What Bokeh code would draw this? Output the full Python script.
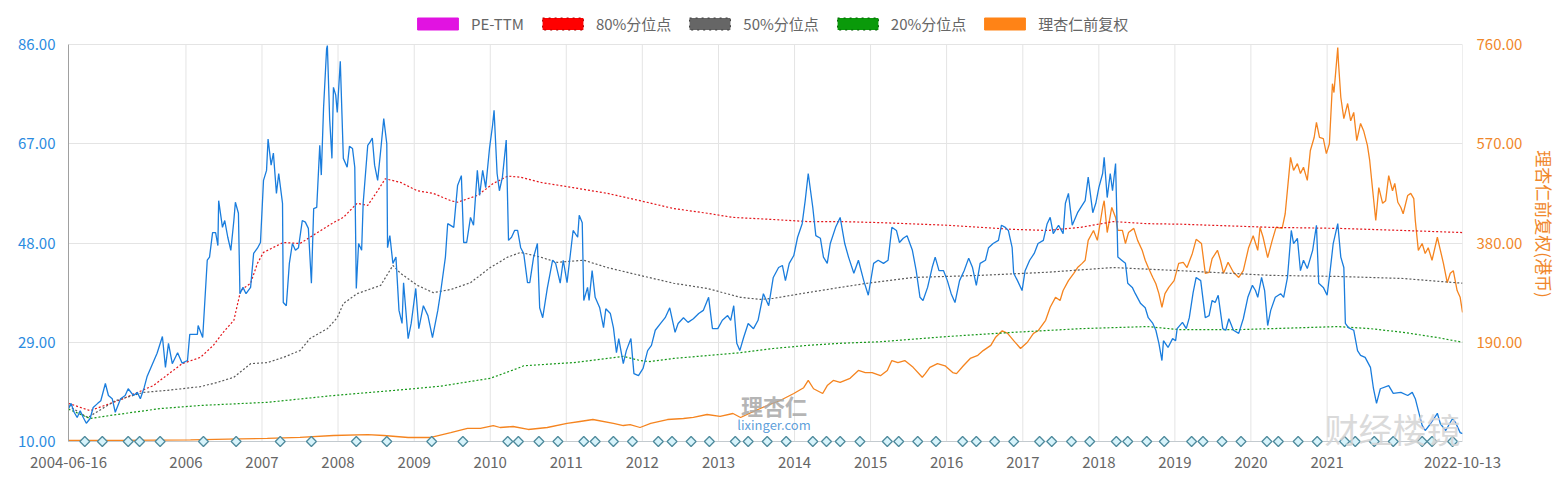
import numpy as np
from datetime import datetime
from bokeh.plotting import figure
from bokeh.models import (Range1d, LinearAxis, FixedTicker, NumeralTickFormatter,
                          Legend, LegendItem, Label, ColumnDataSource)
from bokeh.embed import file_html
from bokeh.resources import INLINE

FONT = "Noto Sans CJK SC"

# ---------------- data ----------------
start_date = "2004-06-16"
end_date = "2022-10-13"
year_ticks = list(range(2006, 2022))
left_ticks = [10, 29, 48, 67, 86]
right_ticks = [190, 380, 570, 760]
left_lim = (10, 86)
right_lim = (0, 760)

# (decimal year, PE-TTM)
pe_ttm = [(2004.456,16.3),(2004.49,17.3),(2004.53,15.6),(2004.57,14.6),(2004.61,15.9),(2004.65,14.6),(2004.69,13.5),(2004.74,14.4),(2004.78,16.5),(2004.84,17.3),(2004.88,17.8),(2004.94,21.1),(2004.98,18.8),(2005.03,18.2),(2005.07,15.6),(2005.14,18.2),(2005.20,18.8),(2005.24,20.1),(2005.31,18.8),(2005.36,19.4),(2005.40,18.2),(2005.45,20.3),(2005.49,22.5),
(2005.62,26.9),(2005.69,30.1),(2005.73,24.2),(2005.77,28.8),(2005.82,24.9),(2005.89,27.0),(2005.95,25.0),(2006.02,25.5),(2006.05,30.5),(2006.15,30.5),(2006.16,32.2),(2006.22,29.9),(2006.28,44.7),(2006.31,45.3),(2006.35,50.0),(2006.39,50.0),(2006.42,47.5),(2006.43,56.1),(2006.48,51.0),(2006.51,52.3),(2006.55,49.1),(2006.59,46.6),(2006.63,52.3),(2006.65,55.8),(2006.69,53.7),(2006.71,38.3),(2006.75,39.5),(2006.79,38.3),(2006.85,39.5),(2006.89,46.0),(2006.94,47.0),(2006.98,48.1),
(2007.02,60.0),(2007.06,61.9),(2007.08,67.9),(2007.12,62.9),(2007.15,65.2),(2007.19,57.5),(2007.22,61.3),(2007.27,55.6),(2007.28,36.6),(2007.32,36.0),(2007.36,44.1),(2007.40,47.9),(2007.44,46.6),(2007.48,47.1),(2007.53,52.3),(2007.57,52.0),(2007.61,50.8),(2007.65,40.3),(2007.68,54.6),(2007.72,54.8),(2007.76,66.7),(2007.78,61.0),(2007.81,73.9),(2007.85,85.2),(2007.86,85.8),(2007.89,71.8),(2007.92,64.2),(2007.94,77.8),(2007.97,76.3),(2007.99,73.0),
(2008.03,82.8),(2008.07,64.2),(2008.12,62.5),(2008.15,66.5),(2008.19,66.1),(2008.22,62.5),(2008.24,39.3),(2008.27,47.9),(2008.31,46.6),(2008.33,55.6),(2008.39,66.7),(2008.42,67.3),(2008.45,68.1),(2008.48,62.9),(2008.52,60.0),(2008.56,65.7),(2008.60,71.8),(2008.64,67.0),(2008.65,47.1),(2008.68,49.4),(2008.72,44.1),(2008.76,45.3),(2008.80,35.1),(2008.84,32.6),(2008.86,40.4),(2008.92,29.7),(2008.96,32.6),
(2009.02,39.3),(2009.06,31.6),(2009.12,36.0),(2009.18,34.1),(2009.24,29.9),(2009.31,35.1),(2009.35,38.9),(2009.41,45.3),(2009.44,51.7),(2009.52,51.0),(2009.57,59.0),(2009.62,60.9),(2009.65,48.1),(2009.69,48.1),(2009.74,52.9),(2009.78,51.4),(2009.83,61.9),(2009.86,57.1),(2009.90,61.9),(2009.94,58.6),(2009.99,66.1),
(2010.03,70.5),(2010.05,73.4),(2010.09,61.3),(2010.12,58.0),(2010.16,60.6),(2010.21,67.7),(2010.24,48.5),(2010.28,49.1),(2010.32,50.4),(2010.36,50.4),(2010.40,47.1),(2010.44,46.0),(2010.49,40.4),(2010.52,40.4),(2010.57,45.3),(2010.62,47.9),(2010.65,35.6),(2010.69,33.7),(2010.75,39.3),(2010.82,44.7),(2010.86,44.1),(2010.92,40.3),(2010.96,44.7),
(2011.01,40.4),(2011.07,47.9),(2011.09,50.4),(2011.15,49.1),(2011.17,53.3),(2011.21,51.9),(2011.23,37.0),(2011.28,39.5),(2011.30,37.0),(2011.34,42.7),(2011.38,37.6),(2011.44,35.6),(2011.49,31.8),(2011.52,35.4),(2011.58,34.5),(2011.62,31.8),(2011.66,27.0),(2011.69,29.7),(2011.75,24.9),(2011.79,27.4),(2011.85,29.7),(2011.89,23.0),(2011.95,22.6),
(2012.01,24.0),(2012.07,27.4),(2012.12,28.4),(2012.17,31.3),(2012.24,32.6),(2012.30,33.7),(2012.36,35.6),(2012.43,30.9),(2012.47,32.6),(2012.54,33.7),(2012.60,32.8),(2012.67,33.5),(2012.74,34.5),(2012.80,35.1),(2012.87,37.6),(2012.92,31.6),(2012.99,31.6),
(2013.05,33.2),(2013.12,34.1),(2013.16,33.2),(2013.20,36.0),(2013.24,28.8),(2013.28,27.4),(2013.33,29.9),(2013.39,32.6),(2013.46,31.6),(2013.52,33.2),(2013.59,38.3),(2013.66,36.0),(2013.72,41.4),(2013.79,43.3),(2013.84,43.7),(2013.88,40.8),(2013.93,44.1),(2013.99,45.6),
(2014.04,49.1),(2014.10,51.7),(2014.14,56.1),(2014.18,61.3),(2014.24,54.8),(2014.28,49.4),(2014.34,48.9),(2014.38,45.3),(2014.43,44.1),(2014.47,47.9),(2014.54,51.0),(2014.60,52.9),(2014.66,47.9),(2014.71,45.3),(2014.78,42.2),(2014.84,44.7),(2014.91,40.8),(2014.97,38.0),
(2015.04,44.1),(2015.10,44.7),(2015.17,44.1),(2015.23,44.7),(2015.28,51.0),(2015.34,50.4),(2015.38,48.1),(2015.43,48.9),(2015.48,49.4),(2015.55,46.6),(2015.60,42.7),(2015.65,37.6),(2015.69,37.0),(2015.75,39.5),(2015.81,43.3),(2015.85,45.3),(2015.90,42.7),(2015.96,42.7),
(2016.01,40.8),(2016.06,38.3),(2016.11,36.6),(2016.17,40.8),(2016.23,42.7),(2016.29,45.1),(2016.34,43.3),(2016.39,39.9),(2016.44,44.1),(2016.51,44.7),(2016.55,47.1),(2016.61,47.9),(2016.68,48.5),(2016.72,51.4),(2016.77,51.0),(2016.81,50.4),(2016.86,47.1),(2016.88,42.2),(2016.93,40.8),(2016.99,38.9),
(2017.03,42.7),(2017.09,44.7),(2017.15,46.0),(2017.20,47.9),(2017.27,48.5),(2017.32,51.7),(2017.36,52.9),(2017.40,49.8),(2017.47,51.4),(2017.53,49.8),(2017.56,55.6),(2017.60,57.5),(2017.65,51.4),(2017.72,53.8),(2017.78,55.2),(2017.82,56.1),(2017.86,60.6),(2017.92,53.8),(2017.96,55.6),
(2018.00,58.6),(2018.05,61.3),(2018.07,64.4),(2018.11,56.7),(2018.15,61.3),(2018.18,58.0),(2018.22,63.2),(2018.25,45.3),(2018.30,44.7),(2018.35,44.1),(2018.38,40.3),(2018.44,39.5),(2018.48,38.3),(2018.55,36.4),(2018.61,35.6),(2018.65,33.7),(2018.71,32.6),(2018.75,31.3),(2018.79,28.8),(2018.83,25.5),(2018.85,29.3),(2018.91,28.0),(2018.97,29.7),
(2019.01,29.3),(2019.03,31.6),(2019.10,32.8),(2019.15,31.6),(2019.19,33.7),(2019.24,38.5),(2019.28,41.4),(2019.34,40.8),(2019.40,33.7),(2019.45,34.1),(2019.49,37.0),(2019.53,36.6),(2019.57,38.0),(2019.63,31.6),(2019.67,31.3),(2019.71,33.5),(2019.77,31.3),(2019.84,30.7),(2019.90,33.5),(2019.96,37.6),
(2020.02,39.9),(2020.06,38.9),(2020.09,37.6),(2020.14,41.4),(2020.18,38.9),(2020.22,32.2),(2020.26,35.1),(2020.32,37.6),(2020.39,38.3),(2020.43,37.6),(2020.48,41.4),(2020.53,50.4),(2020.56,47.9),(2020.61,48.9),(2020.65,42.7),(2020.69,44.7),(2020.74,43.1),(2020.81,46.6),(2020.86,51.4),(2020.89,40.3),(2020.95,39.5),
(2021.00,38.0),(2021.04,42.7),(2021.08,47.9),(2021.14,51.7),(2021.18,45.3),(2021.22,43.3),(2021.24,32.6),(2021.28,31.8),(2021.35,31.3),(2021.40,27.4),(2021.44,26.5),(2021.50,26.1),(2021.57,24.2),(2021.61,20.1),(2021.65,17.3),(2021.70,20.1),(2021.81,20.7),(2021.87,19.2),(2021.97,19.4),
(2022.06,18.8),(2022.12,19.4),(2022.16,18.2),(2022.20,15.9),(2022.25,13.1),(2022.29,12.1),(2022.36,13.4),(2022.45,15.4),(2022.49,13.4),(2022.56,12.1),(2022.65,14.4),(2022.69,13.6),(2022.75,11.7),(2022.781,11.5)]

# 80% percentile
pct80 = [(2004.456,17.3),(2004.74,15.9),(2005.14,18.0),(2005.57,20.7),(2005.95,24.9),(2006.19,26.1),(2006.36,28.4),(2006.49,30.9),(2006.63,33.2),(2006.68,36.4),(2006.72,38.9),(2006.85,40.3),(2006.94,44.1),(2007.02,46.2),(2007.28,48.1),(2007.50,47.9),(2007.73,50.0),(2007.94,51.9),(2008.07,52.9),(2008.25,55.6),(2008.39,55.2),(2008.52,58.0),(2008.62,60.3),(2008.82,59.6),(2009.04,58.0),(2009.25,57.5),(2009.48,56.1),(2009.57,55.8),(2009.83,57.1),(2010.04,59.4),(2010.23,60.8),(2010.40,60.6),(2010.66,59.6),(2011.09,58.6),(2011.54,57.5),(2011.97,56.1),(2012.41,54.6),(2012.85,53.7),(2013.19,52.9),(2013.72,52.5),(2014.17,52.1),(2014.60,52.1),(2015.13,51.9),(2016.01,51.4),(2016.88,50.6),(2017.32,50.4),(2017.76,51.0),(2018.19,52.1),(2018.64,51.7),(2019.07,51.6),(2020.26,51.0),(2021.14,50.8),(2022.00,50.4),(2022.781,50.0)]

# 50% percentile
pct50 = [(2004.456,16.8),(2004.71,14.6),(2005.07,17.8),(2005.44,19.4),(2005.76,19.8),(2006.19,20.5),(2006.41,21.3),(2006.63,22.3),(2006.85,24.9),(2007.07,25.1),(2007.28,26.1),(2007.50,27.4),(2007.63,29.7),(2007.86,31.6),(2007.99,33.7),(2008.07,36.4),(2008.25,38.3),(2008.56,39.9),(2008.72,43.7),(2008.82,42.2),(2009.04,39.9),(2009.25,38.5),(2009.48,39.1),(2009.74,40.4),(2010.00,43.3),(2010.23,45.3),(2010.40,46.2),(2010.66,45.3),(2010.88,44.3),(2011.23,44.7),(2011.54,43.3),(2011.97,41.8),(2012.41,40.3),(2012.85,39.3),(2013.29,37.6),(2013.55,37.2),(2013.72,37.4),(2014.17,38.5),(2014.60,39.5),(2014.96,40.3),(2015.56,41.4),(2016.44,41.8),(2017.32,42.4),(2018.19,43.3),(2019.07,42.7),(2020.26,41.8),(2021.14,41.6),(2022.00,41.2),(2022.781,40.3)]

# 20% percentile
pct20 = [(2004.456,16.2),(2004.74,14.4),(2005.01,15.0),(2005.31,15.6),(2005.66,16.3),(2006.19,16.9),(2007.07,17.5),(2007.94,18.8),(2008.99,20.1),(2009.35,20.6),(2010.00,22.1),(2010.36,24.0),(2010.44,24.5),(2011.09,25.1),(2011.75,26.3),(2011.97,25.5),(2012.10,25.3),(2012.41,25.9),(2013.29,27.0),(2013.72,27.8),(2014.17,28.4),(2014.60,28.8),(2015.13,29.1),(2016.01,30.1),(2016.88,30.9),(2017.76,31.6),(2018.64,32.0),(2019.07,31.4),(2019.82,31.4),(2021.14,32.0),(2021.57,31.6),(2022.00,30.9),(2022.45,29.9),(2022.781,29.0)]

# 理杏仁前复权 price (HKD, right axis)
price = [(2004.456,2),(2005.14,2),(2006.06,3),(2006.72,5),(2007.07,6),(2007.50,8),(2007.94,11.5),(2008.39,13),(2008.60,11.5),(2008.92,7.7),(2009.22,7.7),(2009.48,17),(2009.70,25),(2009.87,25),(2010.04,30.6),(2010.13,26.8),(2010.30,28.7),(2010.50,23),(2010.75,26.8),(2011.01,34.5),(2011.18,38.3),(2011.35,42.1),(2011.62,34.5),(2011.75,30.6),(2011.84,32.5),(2011.97,26.8),(2012.11,34.5),(2012.33,42.1),(2012.54,44),(2012.67,46),(2012.85,51.7),(2013.02,47.9),(2013.19,53.6),(2013.29,46),(2013.46,57.4),(2013.64,68.9),(2013.81,78.5),(2013.99,91.9),(2014.12,103),(2014.18,117),(2014.25,101),(2014.37,91.9),(2014.43,107),(2014.51,117),(2014.60,113),(2014.73,121),(2014.84,136),(2014.93,132),(2015.02,132),(2015.13,126),(2015.22,136),(2015.28,155),(2015.36,151),(2015.45,155),(2015.56,142),(2015.68,123),(2015.72,130),(2015.78,142),(2015.88,149),(2015.98,145),(2016.08,132),(2016.13,130),(2016.22,145),(2016.31,159),(2016.41,165),(2016.48,174),(2016.58,184),(2016.64,199),(2016.73,212),(2016.80,207),(2016.88,193),(2016.97,178),(2017.06,190),(2017.14,207),(2017.20,212),(2017.30,232),(2017.36,257),(2017.43,276),(2017.49,270),(2017.53,289),(2017.60,308),(2017.67,322),(2017.72,333),(2017.78,341),(2017.82,347),(2017.86,385),(2017.93,404),(2017.98,385),(2018.05,448),(2018.07,461),(2018.11,400),(2018.17,448),(2018.22,429),(2018.25,404),(2018.31,404),(2018.35,379),(2018.39,400),(2018.46,408),(2018.51,385),(2018.57,366),(2018.61,347),(2018.65,333),(2018.71,314),(2018.75,302),(2018.79,283),(2018.83,257),(2018.87,283),(2018.92,295),(2018.99,308),(2019.05,341),(2019.11,343),(2019.16,333),(2019.23,360),(2019.28,387),(2019.35,379),(2019.40,322),(2019.45,324),(2019.49,350),(2019.56,366),(2019.60,347),(2019.64,322),(2019.70,343),(2019.77,324),(2019.84,314),(2019.90,327),(2019.97,371),(2020.03,394),(2020.09,366),(2020.12,410),(2020.16,391),(2020.22,352),(2020.28,385),(2020.33,410),(2020.41,408),(2020.45,436),(2020.52,544),(2020.56,519),(2020.61,532),(2020.65,513),(2020.69,525),(2020.74,500),(2020.78,557),(2020.83,582),(2020.86,611),(2020.90,582),(2020.95,580),(2020.99,551),(2021.03,570),(2021.07,685),(2021.09,668),(2021.14,754),(2021.15,724),(2021.18,659),(2021.22,618),(2021.27,647),(2021.31,614),(2021.35,630),(2021.39,576),(2021.44,609),(2021.48,595),(2021.53,567),(2021.56,538),(2021.60,480),(2021.64,423),(2021.68,486),(2021.73,456),(2021.77,461),(2021.81,509),(2021.86,480),(2021.89,494),(2021.93,458),(2021.97,448),(2022.00,436),(2022.06,471),(2022.10,475),(2022.14,465),(2022.16,423),(2022.20,366),(2022.25,379),(2022.29,360),(2022.33,371),(2022.38,347),(2022.45,391),(2022.49,366),(2022.53,341),(2022.58,304),(2022.62,322),(2022.66,327),(2022.71,289),(2022.75,276),(2022.781,247)]

# event markers (diamonds on the bottom line)
event_years = [2004.67,2004.90,2005.24,2005.39,2005.66,2006.23,2006.66,2007.24,2007.65,2008.24,2008.64,2009.23,2009.64,2010.23,2010.37,2010.64,2010.89,2011.23,2011.38,2011.62,2011.87,2012.21,2012.39,2012.64,2012.88,2013.22,2013.39,2013.64,2013.89,2014.24,2014.42,2014.60,2014.86,2015.22,2015.37,2015.62,2015.86,2016.21,2016.39,2016.63,2016.88,2017.22,2017.38,2017.64,2017.88,2018.23,2018.38,2018.63,2018.86,2019.22,2019.37,2019.62,2019.87,2020.21,2020.36,2020.62,2020.87,2021.23,2021.37,2021.62,2021.87,2022.25,2022.38,2022.65]
event_level = 10

legend_labels = ["PE-TTM", "80%分位点", "50%分位点", "20%分位点", "理杏仁前复权"]

# ---------------- layout constants (pixels) ----------------
W, H = 1560, 481
FRAME_L, FRAME_R = 68, 1462        # frame x extent
AXIS_TOP, AXIS_BOT = 44, 441       # where the value axes start/end
FRAME_BOT = 447                    # frame extends a bit below the axis so markers are not clipped
FRAME_TOP = 0                      # frame extends to the top so the legend sits inside it

# ---------------- helpers ----------------
EPOCH = datetime(1970, 1, 1)

def to_ms(dt):
    return (dt - EPOCH).total_seconds() * 1000.0

def yr_ms(y):
    yi = int(np.floor(y))
    a, b = datetime(yi, 1, 1), datetime(yi + 1, 1, 1)
    return to_ms(a + (b - a) * (y - yi))

def date_ms(s):
    return to_ms(datetime.strptime(s, "%Y-%m-%d"))

def xy(series):
    return [yr_ms(t) for t, _ in series], [v for _, v in series]

def padded(lim):
    per_px = (lim[1] - lim[0]) / (AXIS_BOT - AXIS_TOP)
    return (lim[0] - (FRAME_BOT - AXIS_BOT) * per_px, lim[1] + (AXIS_TOP - FRAME_TOP) * per_px)

x_start, x_end = date_ms(start_date), date_ms(end_date)
ly0, ly1 = padded(left_lim)
ry0, ry1 = padded(right_lim)

p = figure(width=W, height=H, x_range=Range1d(x_start, x_end), y_range=Range1d(ly0, ly1),
           output_backend="svg", toolbar_location=None,
           min_border_left=FRAME_L, min_border_right=W - FRAME_R,
           min_border_top=FRAME_TOP, min_border_bottom=H - FRAME_BOT)
p.extra_y_ranges = {"price": Range1d(ry0, ry1)}
p.outline_line_color = None
p.background_fill_color = "white"
p.border_fill_color = "white"

# grids: horizontal from the built-in grid, vertical drawn only over the axis span
year_ms = [date_ms(f"{y}-01-01") for y in year_ticks]
p.xgrid.visible = False
p.ygrid.ticker = FixedTicker(ticks=left_ticks)
p.ygrid.grid_line_color = "#e4e4e4"
p.segment(x0=year_ms, y0=[left_lim[0]] * len(year_ms), x1=year_ms, y1=[left_lim[1]] * len(year_ms),
          line_color="#e4e4e4", line_width=1)
p.segment(x0=[x_end], y0=[left_lim[0]], x1=[x_end], y1=[left_lim[1]], line_color="#dedede", line_width=1)
p.segment(x0=[x_start], y0=[left_lim[0]], x1=[x_end], y1=[left_lim[0]], line_color="#c3cacf", line_width=1)

# bottom axis
xt = [x_start] + year_ms + [x_end]
overrides = {x_start: start_date, x_end: end_date}
for y, m in zip(year_ticks, year_ms):
    overrides[m] = str(y)
xa = p.xaxis[0]
xa.ticker = FixedTicker(ticks=xt)
xa.major_label_overrides = overrides
xa.major_label_text_color = "#666666"
xa.major_label_text_font = FONT
xa.major_label_text_font_size = "15px"
xa.major_label_standoff = 9
xa.major_tick_line_color = None
xa.minor_tick_line_color = None
xa.major_tick_out = 0
xa.major_tick_in = 0
xa.minor_tick_out = 0
xa.minor_tick_in = 0
xa.axis_line_color = None

# left axis
ya = p.yaxis[0]
ya.ticker = FixedTicker(ticks=left_ticks)
ya.formatter = NumeralTickFormatter(format="0.00")
ya.bounds = left_lim
ya.major_label_text_color = "#2b8be0"
ya.major_label_text_font = FONT
ya.major_label_text_font_size = "15px"
ya.major_label_standoff = 13
ya.major_tick_line_color = None
ya.minor_tick_line_color = None
ya.major_tick_out = 0
ya.major_tick_in = 0
ya.minor_tick_out = 0
ya.minor_tick_in = 0
ya.axis_line_color = "#a0a0a0"

# right axis
ra = LinearAxis(y_range_name="price", ticker=FixedTicker(ticks=right_ticks),
                formatter=NumeralTickFormatter(format="0.00"),
                axis_label="理杏仁前复权(港币)", bounds=right_lim)
ra.major_label_text_color = "#f0872a"
ra.major_label_text_font = FONT
ra.major_label_text_font_size = "15px"
ra.major_label_standoff = 14
ra.axis_label_text_color = "#f0872a"
ra.axis_label_text_font = FONT
ra.axis_label_text_font_size = "17px"
ra.axis_label_text_font_style = "normal"
ra.axis_label_standoff = 7
ra.major_tick_line_color = None
ra.minor_tick_line_color = None
ra.major_tick_out = 0
ra.major_tick_in = 0
ra.minor_tick_out = 0
ra.minor_tick_in = 0
ra.axis_line_color = None
p.add_layout(ra, "right")

# series
px, py = xy(price)
p.line(px, py, y_range_name="price", line_color="#f5841f", line_width=1.3)
for ser, col in ((pct80, "#e3161b"), (pct50, "#5a5a5a"), (pct20, "#17981a")):
    sx, sy = xy(ser)
    p.line(sx, sy, line_color=col, line_width=1.2, line_dash="2 2")
ex, ey = xy(pe_ttm)
p.line(ex, ey, line_color="#1a7ddd", line_width=1.3)

evx = [yr_ms(t) for t in event_years]
p.scatter(evx, [event_level] * len(evx), marker="square", angle=np.pi / 4, size=7,
          fill_color="#d6f3fb", line_color="#4e8a9c", line_width=1.3)

# legend (coloured boxes), sitting in the top strip of the frame
specs = [("#e113e1", "#e113e1", "solid"), ("#ff0000", "#a80000", "dotted"),
         ("#666666", "#3a3a3a", "dotted"), ("#0a9a0a", "#005a00", "dotted"),
         ("#ff8316", "#ff8316", "solid")]
items = []
for lab, (fc, lc, dash) in zip(legend_labels, specs):
    src = ColumnDataSource(data=dict(left=[np.nan], right=[np.nan], top=[np.nan], bottom=[np.nan]))
    r = p.quad(left="left", right="right", top="top", bottom="bottom", source=src,
               fill_color=fc, line_color=lc, line_dash=dash, line_width=1)
    items.append(LegendItem(label=lab, renderers=[r]))
legend = Legend(items=items, orientation="horizontal", location=(344, 413),
                glyph_width=51, glyph_height=15, label_standoff=8, spacing=13,
                label_text_font=FONT, label_text_font_size="15px", label_text_color="#666666",
                border_line_color=None, background_fill_alpha=0, padding=0, margin=0)
p.add_layout(legend)

# watermarks
p.add_layout(Label(x=yr_ms(2013.73), y=16.9, text="理杏仁", text_align="center", text_baseline="middle",
                   text_font=FONT, text_font_size="22px", text_color="#a8a8a8", text_alpha=0.85,
                   text_font_style="bold"))
p.add_layout(Label(x=yr_ms(2013.73), y=13.3, text="lixinger.com", text_align="center", text_baseline="middle",
                   text_font=FONT, text_font_size="13px", text_color="#4b94d6", text_alpha=0.9))
p.add_layout(Label(x=yr_ms(2021.86), y=12.5, text="财经楼镜", text_align="center", text_baseline="middle",
                   text_font=FONT, text_font_size="34px", text_color="#d4d4d4", text_alpha=0.85))

open("out.html", "w").write(file_html(p, INLINE))
